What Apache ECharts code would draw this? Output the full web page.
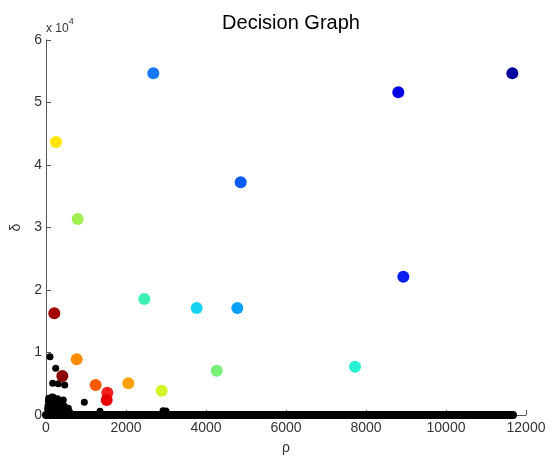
<!DOCTYPE html>
<html lang="en">
<head>
    <meta charset="utf-8" />
    <title>Decision Graph</title>
    <script src="https://cdn.jsdelivr.net/npm/echarts@6/dist/echarts.min.js"></script>
    <style>
        html, body { margin: 0; padding: 0; background: #fff; }
    </style>
</head>
<body>
    <div id="main" style="width: 556px;height:462px;"></div>
    <script>
        // cluster centres (rho, delta), ordered like the jet colour map
        var centerRho   = [11658, 8808, 8933, 4867, 2683, 4783, 3767, 7725, 2458, 4267, 792, 2892, 250, 2058, 767, 1242, 1533, 1517, 208, 408];
        var centerDelta = [54670, 51630, 22130, 37230, 54670, 17120, 17120, 7730, 18560, 7090, 31360, 3890, 43680, 5067, 8907, 4800, 3570, 2400, 16270, 6240];

        // ordinary points that stand out from the band
        var pointRho   = [100, 242, 167, 308, 467, 67, 183, 433, 958, 100, 258, 558, 150, 50, 330, 400, 120, 200, 290, 80, 500, 360, 1350, 2925, 3000,
                          60, 140, 220, 300, 380, 460, 40, 110, 180, 250, 320, 420, 520, 600];
        var pointDelta = [9330, 7470, 5070, 5010, 4800, 2670, 2830, 2400, 2030, 1870, 1600, 1070, 2900, 1500, 1200, 900, 900, 2100, 2600, 400, 500, 300, 600, 700, 650,
                          2200, 1900, 1300, 1800, 1600, 1400, 1000, 600, 700, 900, 500, 600, 700, 400];

        // the dense run of points with delta close to zero
        var bandRho   = [0, 11675];
        var bandDelta = [0, 0];

        var xTicks = [0, 2000, 4000, 6000, 8000, 10000, 12000];
        var yTicks = [0, 10000, 20000, 30000, 40000, 50000, 60000];

        var jet = ['#00009c', '#0000e6', '#0a1ef0', '#0a5af5', '#1478f5', '#0aa0f5', '#14d2f0', '#28f0d2',
                   '#3cf0b4', '#78f078', '#a0f050', '#d2f528', '#ffe600', '#ffa000', '#ff8c00', '#ff5a00',
                   '#f51e1e', '#e60000', '#a00000', '#8c0000'];

        var centers = centerRho.map(function (r, i) {
            return { value: [r, centerDelta[i]], itemStyle: { color: jet[i] } };
        });
        var points = pointRho.map(function (r, i) { return [r, pointDelta[i]]; });
        var band = bandRho.map(function (r, i) { return [r, bandDelta[i]]; });

        var chart = echarts.init(document.getElementById('main'));
        var font = 'Liberation Sans, Arial, sans-serif';
        var option = {
            animation: false,
            backgroundColor: '#fff',
            title: {
                text: 'Decision Graph',
                left: 286,
                textAlign: 'center',
                top: 8,
                textStyle: { fontSize: 20, fontWeight: 'normal', color: '#000', fontFamily: font }
            },
            grid: { left: 46, right: 30, top: 40, bottom: 47 },
            xAxis: {
                type: 'value',
                min: xTicks[0],
                max: xTicks[xTicks.length - 1],
                interval: 2000,
                name: 'ρ',
                nameLocation: 'middle',
                nameGap: 26,
                nameTextStyle: { fontSize: 14, color: '#333', fontFamily: font },
                axisLine: { show: true, lineStyle: { color: '#555', width: 1 } },
                axisTick: { show: true, inside: true, length: 5, lineStyle: { color: '#555' } },
                axisLabel: {
                    fontSize: 14, color: '#333', fontFamily: font, margin: 6,
                    formatter: function (v) { return String(v); }
                },
                splitLine: { show: false }
            },
            yAxis: {
                type: 'value',
                min: yTicks[0],
                max: yTicks[yTicks.length - 1],
                interval: 10000,
                name: 'δ',
                nameLocation: 'middle',
                nameGap: 14,
                nameRotate: 90,
                nameTextStyle: { fontSize: 14, color: '#333', fontFamily: font },
                axisLine: { show: true, lineStyle: { color: '#555', width: 1 } },
                axisTick: { show: true, inside: true, length: 5, lineStyle: { color: '#555' } },
                axisLabel: {
                    fontSize: 14, color: '#333', fontFamily: font, margin: 4,
                    formatter: function (v) { return String(v / 10000); }
                },
                splitLine: { show: false }
            },
            graphic: [{
                type: 'text',
                left: 46,
                top: 17,
                style: {
                    text: '{a|x 10}{b|4}',
                    rich: {
                        a: { fontSize: 12, fill: '#333', fontFamily: font, padding: [6, 0, 0, 0] },
                        b: { fontSize: 9, fill: '#333', fontFamily: font, verticalAlign: 'top' }
                    }
                }
            }],
            series: [
                {
                    name: 'band',
                    type: 'line',
                    data: band,
                    symbol: 'none',
                    clip: false,
                    lineStyle: { color: '#000', width: 8, cap: 'round' },
                    z: 3
                },
                {
                    name: 'points',
                    type: 'scatter',
                    data: points,
                    symbolSize: 7,
                    clip: false,
                    itemStyle: { color: '#000', opacity: 1 },
                    z: 4
                },
                {
                    name: 'centers',
                    type: 'scatter',
                    data: centers,
                    symbolSize: 12,
                    clip: false,
                    itemStyle: { opacity: 1 },
                    z: 5
                }
            ]
        };
        chart.setOption(option);
    </script>
</body>
</html>
